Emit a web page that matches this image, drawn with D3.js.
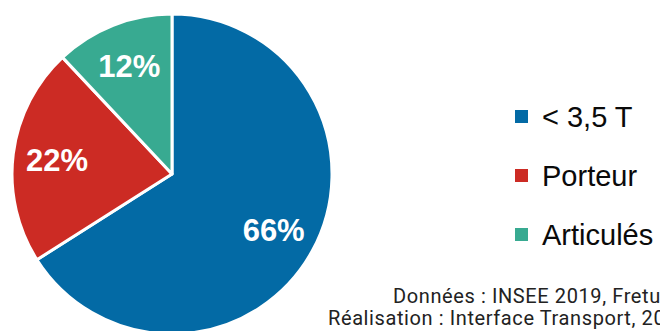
<!DOCTYPE html>
<html>
<head>
<meta charset="utf-8">
<script src="https://cdn.jsdelivr.net/npm/d3@7"></script>
<style>
  html, body { margin: 0; padding: 0; background: #fff; overflow: hidden; }
  svg { display: block; }
</style>
</head>
<body>
<svg id="chart" width="660" height="331"></svg>
<script>
const categories = ["< 3,5 T", "Porteur", "Articulés"];
const values = [66, 22, 12];
const labels = ["66%", "22%", "12%"];
const colors = ["#036aa5", "#cc2b24", "#38aa91"];
const sourceLines = ["Données : INSEE 2019, Freturb", "Réalisation : Interface Transport, 2021"];

const svg = d3.select("#chart");
const cx = 172, cy = 174, R = 160;

const data = categories.map((c, i) => ({ cat: c, value: values[i], label: labels[i], color: colors[i] }));
const pie = d3.pie().sort(null).value(d => d.value);
const arcs = pie(data);
const arc = d3.arc().innerRadius(0).outerRadius(R);
const labelArc = d3.arc().innerRadius(116).outerRadius(116);

const g = svg.append("g").attr("transform", `translate(${cx},${cy})`);
g.selectAll("path").data(arcs).join("path")
  .attr("d", arc)
  .attr("fill", d => d.data.color)
  .attr("stroke", "#fff")
  .attr("stroke-width", 3)
  .attr("stroke-linejoin", "round");

g.selectAll("text").data(arcs).join("text")
  .attr("transform", d => `translate(${labelArc.centroid(d)})`)
  .attr("text-anchor", "middle")
  .attr("dy", "0.36em")
  .attr("fill", "#fff")
  .attr("font-family", "'Liberation Sans', Arial, sans-serif")
  .attr("font-weight", "bold")
  .attr("font-size", 31)
  .text(d => d.data.label);

// legend
const legendY = d3.scalePoint().domain(categories).range([117, 235]);
const lg = svg.append("g");
const items = lg.selectAll("g").data(data).join("g")
  .attr("transform", d => `translate(515,${legendY(d.cat)})`);
items.append("rect")
  .attr("x", 0).attr("y", -7).attr("width", 13).attr("height", 13)
  .attr("fill", d => d.color);
items.append("text")
  .attr("x", 27).attr("y", 0).attr("dy", "0.36em")
  .attr("font-family", "'Liberation Sans', Arial, sans-serif")
  .attr("font-size", 29)
  .attr("fill", "#0a0a0a")
  .text(d => d.cat);

// source
svg.append("g").selectAll("text").data(sourceLines).join("text")
  .attr("x", (d, i) => i === 0 ? 393 : 328)
  .attr("y", (d, i) => 303 + i * 22)
  .attr("font-family", "Roboto, sans-serif")
  .attr("font-size", 20)
  .attr("letter-spacing", 0.6)
  .attr("fill", "#222")
  .text(d => d);
</script>
</body>
</html>
